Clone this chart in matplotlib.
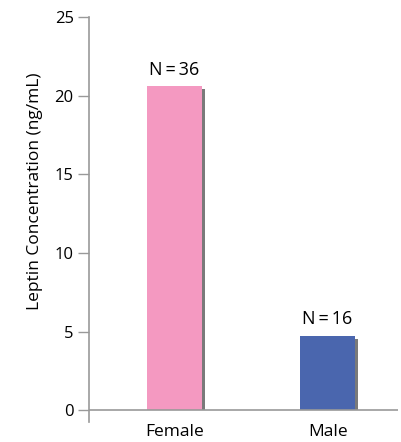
import matplotlib.pyplot as plt

plt.rcParams['font.family'] = ['Open Sans', 'DejaVu Sans']

groups = ['Female', 'Male']
leptin = [20.6, 4.75]
counts = [36, 16]
colors = ['#f499c1', '#4a66ae']

fig = plt.figure(figsize=(4.01, 4.42), dpi=100)
ax = fig.add_axes([0.222, 0.045, 0.7705, 0.9165])

pos = list(range(len(groups)))
w = 0.36
# drop shadow behind each bar
ax.bar([p + 0.02 for p in pos], [v - 0.2 for v in leptin], width=w,
       color='#7a7a7a', zorder=1)
ax.bar(pos, leptin, width=w, color=colors, zorder=2)

for p, v, n in zip(pos, leptin, counts):
    ax.annotate(f'N\u2009=\u2009{n}', (p, v), xytext=(0, 5.5),
                textcoords='offset points', ha='center', va='bottom',
                fontsize=13)

ax.axhline(0, color='#999999', lw=1.2, zorder=3)
ax.set_xlim(-0.559, 1.46)
ax.set_ylim(-0.75, 25)
ax.set_yticks([0, 5, 10, 15, 20, 25])
ax.set_xticks(pos)
ax.set_xticklabels(groups, fontsize=12.5)
ax.tick_params(axis='x', length=0, pad=1.5)
ax.tick_params(axis='y', length=8, width=1, color='#999999', labelsize=12,
               pad=3)
ax.set_ylabel('Leptin Concentration (ng/mL)', fontsize=12.5)
ax.yaxis.set_label_coords(-0.15, 0.57)

for s in ['top', 'right', 'bottom']:
    ax.spines[s].set_visible(False)
ax.spines['left'].set_color('#999999')
ax.spines['left'].set_linewidth(1.2)

fig.savefig('out.png', dpi=100)
